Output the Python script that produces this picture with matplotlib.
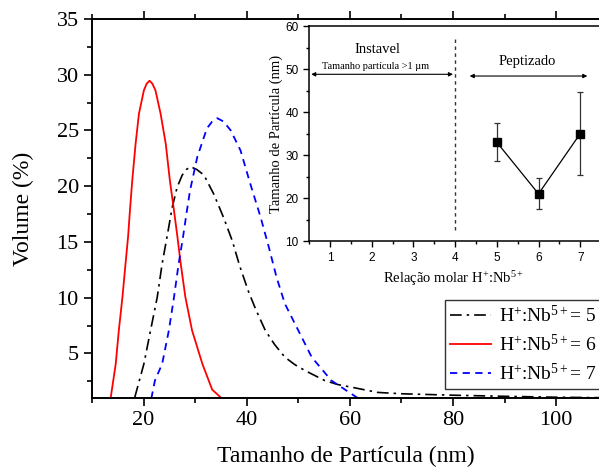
import matplotlib
matplotlib.use("Agg")
import matplotlib.pyplot as plt
from matplotlib.ticker import MultipleLocator

plt.rcParams['font.family'] = ['Liberation Serif', 'DejaVu Serif']
plt.rcParams['mathtext.fontset'] = 'custom'
plt.rcParams['mathtext.rm'] = 'Liberation Serif'
plt.rcParams['mathtext.it'] = 'Liberation Serif:italic'

# size distributions (nm, volume %)
x_r5 = [18.3, 20.06, 21.35, 22.65, 23.6, 24.6, 25.55, 26.5, 27.5, 28.3, 29.1, 30.3, 31.7,
        33.6, 35.5, 37.2, 38.6, 40.3, 41.7, 43.6, 45.4, 47.4, 49.3, 51.3, 55.1, 57.7,
        60.3, 65.4, 70.0, 80.0, 90.0, 100.0, 108.3]
y_r5 = [1.07, 4.06, 7.06, 10.05, 13.05, 15.6, 18.1, 19.9, 21.0, 21.5, 21.75, 21.5, 21.0,
        19.3, 17.2, 15.1, 12.9, 10.6, 9.0, 7.06, 5.8, 4.66, 4.0, 3.46, 2.57, 2.2,
        1.97, 1.5, 1.38, 1.25, 1.15, 1.07, 1.03]

x_r6 = [13.6, 14.6, 15.2, 15.9, 16.5, 17.0, 17.35, 17.8, 18.45, 19.1, 20.06, 20.6, 21.16,
        21.7, 22.3, 23.3, 24.3, 25.1, 25.9, 26.55, 27.2, 28.1, 29.4, 31.4, 33.3, 35.2]
y_r6 = [0.95, 4.06, 7.06, 10.05, 13.05, 15.5, 17.8, 20.5, 23.8, 26.5, 28.6, 29.2, 29.46,
        29.2, 28.6, 26.5, 23.8, 20.5, 17.8, 15.5, 13.05, 10.05, 7.06, 4.06, 1.75, 0.95]

x_r7 = [21.5, 22.2, 23.6, 24.9, 25.9, 26.8, 27.6, 28.3, 29.0, 30.4, 31.7, 32.3, 33.3,
        34.3, 35.5, 36.9, 38.8, 40.7, 42.7, 44.3, 45.8, 47.4, 50.0, 52.6, 56.4, 60.3, 62.2]
y_r7 = [0.95, 2.57, 4.06, 7.06, 10.05, 13.05, 15.3, 17.5, 19.6, 22.6, 24.4, 25.2, 25.8,
        26.1, 25.8, 25.0, 23.2, 20.2, 17.2, 14.5, 11.8, 9.45, 7.06, 4.66, 2.57, 1.37, 0.8]

labels = [r'H$^{+}$:Nb$^{5+}$= 5', r'H$^{+}$:Nb$^{5+}$= 6', r'H$^{+}$:Nb$^{5+}$= 7']

# inset: mean particle size vs molar ratio
ratio = [5, 6, 7]
size = [33.0, 21.0, 35.0]
err = [4.4, 3.6, 9.7]

fig = plt.figure(figsize=(5.99, 4.71), dpi=100)
ax = fig.add_axes([0.1536, 0.155, 0.8464, 0.8047])

ax.plot(x_r5, y_r5, color='black', lw=1.2, ls=(0, (7, 3, 1.5, 3)), label=labels[0])
ax.plot(x_r6, y_r6, color='red', lw=1.3, label=labels[1])
ax.plot(x_r7, y_r7, color='blue', lw=1.3, ls=(0, (4, 3)), label=labels[2])

ax.set_xlim(10, 108.3)
ax.set_ylim(1, 35)
ax.xaxis.set_major_locator(MultipleLocator(20))
ax.xaxis.set_minor_locator(MultipleLocator(10))
ax.set_yticks([5, 10, 15, 20, 25, 30, 35])
ax.yaxis.set_minor_locator(MultipleLocator(2.5))
ax.tick_params(which='both', direction='out', labelsize=16, width=1.2)
ax.tick_params(which='major', length=6)
ax.tick_params(which='minor', length=3.5)
ax.tick_params(axis='x', which='both', top=True)
ax.spines['right'].set_visible(False)
for s in ax.spines.values():
    s.set_linewidth(1.4)
ax.set_xlabel('Tamanho de Partícula (nm)', fontsize=17, labelpad=11)
ax.set_ylabel('Volume (%)', fontsize=17, labelpad=16)

leg = ax.legend(loc='lower right', bbox_to_anchor=(1.005, 0.024), fontsize=14,
                frameon=True, fancybox=False, handlelength=2.1, handletextpad=0.4,
                labelspacing=0.4, borderpad=0.25, borderaxespad=0.0)
leg.get_frame().set_edgecolor('black')
leg.get_frame().set_linewidth(1.0)

# inset
ins = fig.add_axes([0.516, 0.488, 0.484, 0.4565])
ins.errorbar(ratio, size, yerr=err, color='black', lw=0.9, marker='s', ms=5.5,
             ecolor='#333333', elinewidth=0.9, capsize=2.5, capthick=0.9)
ins.axvline(4, ymin=0.05, ymax=0.94, color='#333333', lw=1.0, ls=(0, (2.5, 2.5)))
ins.set_xlim(0.5, 7.45)
ins.set_ylim(10, 60)
ins.xaxis.set_major_locator(MultipleLocator(1))
ins.xaxis.set_minor_locator(MultipleLocator(0.5))
ins.yaxis.set_major_locator(MultipleLocator(10))
ins.yaxis.set_minor_locator(MultipleLocator(5))
ins.tick_params(which='both', direction='out', width=1.0)
ins.tick_params(which='major', length=4)
ins.tick_params(which='minor', length=2)
for lab in ins.get_xticklabels() + ins.get_yticklabels():
    lab.set_family(['Liberation Sans', 'DejaVu Sans'])
    lab.set_fontsize(8.5)
ins.spines['right'].set_visible(False)
for s in ins.spines.values():
    s.set_linewidth(1.1)
ins.set_xlabel(r'Relação molar H$^{+}$:Nb$^{5+}$', fontsize=10.5, labelpad=4)
ins.set_ylabel('Tamanho de Partícula (nm)', fontsize=10.5, labelpad=2)

ins.text(2.15, 54.6, 'Instavel', ha='center', va='center', fontsize=10.5)
ins.text(2.1, 50.7, 'Tamanho partícula >1 µm', ha='center', va='center', fontsize=7.5)
ins.annotate('', xy=(0.55, 48.8), xytext=(3.95, 48.8),
             arrowprops=dict(arrowstyle='<|-|>', color='black', lw=0.8,
                             mutation_scale=6, shrinkA=0, shrinkB=0))
ins.text(5.73, 51.8, 'Peptizado', ha='center', va='center', fontsize=10.5)
ins.annotate('', xy=(4.35, 48.4), xytext=(7.17, 48.4),
             arrowprops=dict(arrowstyle='<|-|>', color='black', lw=0.8,
                             mutation_scale=6, shrinkA=0, shrinkB=0))

fig.savefig('out.png', dpi=100)
